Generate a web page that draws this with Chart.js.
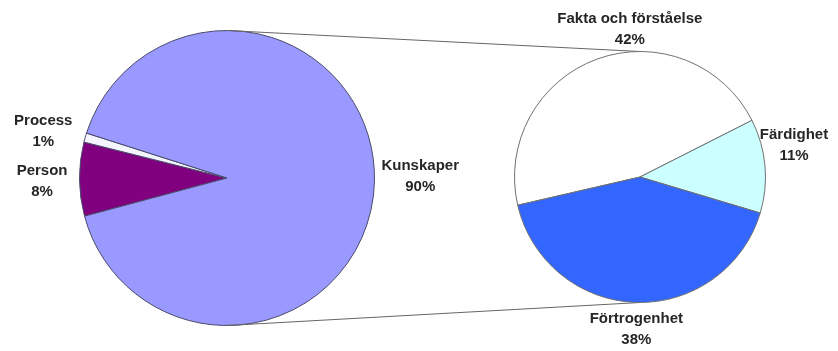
<!DOCTYPE html>
<html>
<head>
<meta charset="utf-8">
<script src="https://cdn.jsdelivr.net/npm/chart.js@4/dist/chart.umd.min.js"></script>
<style>
    body { margin: 0; background: #ffffff; }
    #wrap { position: relative; width: 838px; height: 351px; }
    #wrap canvas { position: absolute; left: 0; top: 0; }
</style>
</head>
<body>
<div id="wrap">
    <canvas id="chart-main" width="838" height="351"></canvas>
    <canvas id="chart-split" width="838" height="351"></canvas>
</div>
<script>
// Main pie (Kunskaper is split out into the second pie)
const mainLabels = ['Person', 'Process', 'Kunskaper'];
const mainValues = [8, 1, 90];
const mainColors = ['#800080', '#F4F4FF', '#9999FF'];

// Second pie - breakdown of Kunskaper
const splitLabels = ['Fakta och förståelse', 'Färdighet', 'Förtrogenhet'];
const splitValues = [42, 11, 38];
const splitColors = ['#FFFFFF', '#CCFFFF', '#3366FF'];

const LABEL_FONT = 'bold 15px "Liberation Sans", Arial, sans-serif';
const LINE_H = 21;

// Draws "name / value%" outside each slice, like Excel's outside-end labels
const outsideLabels = {
    id: 'outsideLabels',
    afterDatasetsDraw(chart, args, opts) {
        const ctx = chart.ctx;
        const meta = chart.getDatasetMeta(0);
        const vals = chart.data.datasets[0].data;
        const pad = opts.pad || 5;
        const nudge = opts.nudge || [];
        ctx.save();
        ctx.font = LABEL_FONT;
        ctx.fillStyle = '#262626';
        ctx.textAlign = 'center';
        ctx.textBaseline = 'middle';
        meta.data.forEach((arc, i) => {
            const p = arc.getProps(['x', 'y', 'startAngle', 'endAngle', 'outerRadius'], true);
            const mid = (p.startAngle + p.endAngle) / 2;
            const lines = [chart.data.labels[i], vals[i] + '%'];
            const w = Math.max(...lines.map(t => ctx.measureText(t).width));
            const h = lines.length * LINE_H;
            const cos = Math.cos(mid), sin = Math.sin(mid);
            const [dx, dy] = nudge[i] || [0, 0];
            const cx = p.x + cos * (p.outerRadius + pad) + cos * w / 2 + dx;
            const cy = p.y + sin * (p.outerRadius + pad) + sin * h / 2 + dy;
            lines.forEach((t, k) => ctx.fillText(t, cx, cy - h / 2 + LINE_H * (k + 0.5)));
        });
        ctx.restore();
    }
};

let mainChart, splitChart;

// Connector lines from the main pie to the second pie
const connectors = {
    id: 'connectors',
    beforeDatasetsDraw(chart) {
        if (!mainChart) return;
        const a = mainChart.getDatasetMeta(0).data[0];
        const b = chart.getDatasetMeta(0).data[0];
        const ctx = chart.ctx;
        ctx.save();
        ctx.strokeStyle = '#666666';
        ctx.lineWidth = 1;
        ctx.beginPath();
        ctx.moveTo(a.x, a.y - a.outerRadius);
        ctx.lineTo(b.x, b.y - b.outerRadius);
        ctx.moveTo(a.x, a.y + a.outerRadius);
        ctx.lineTo(b.x, b.y + b.outerRadius);
        ctx.stroke();
        ctx.restore();
    }
};

function pieOptions(rotation, padding, nudge) {
    return {
        responsive: false,
        animation: false,
        rotation: rotation,
        layout: { padding: padding },
        plugins: {
            legend: { display: false },
            tooltip: { enabled: false },
            outsideLabels: { pad: 5, nudge: nudge }
        }
    };
}

mainChart = new Chart(document.getElementById('chart-main').getContext('2d'), {
    type: 'pie',
    data: {
        labels: mainLabels,
        datasets: [{
            data: mainValues,
            backgroundColor: mainColors,
            borderColor: '#4a4a6a',
            borderWidth: 1
        }]
    },
    options: pieOptions(255, { left: 79, right: 463, top: 30, bottom: 25 },
        [[-7, 2], [-9, 1], [2, -6]]),
    plugins: [outsideLabels]
});

splitChart = new Chart(document.getElementById('chart-split').getContext('2d'), {
    type: 'pie',
    data: {
        labels: splitLabels,
        datasets: [{
            data: splitValues,
            backgroundColor: splitColors,
            borderColor: '#707070',
            borderWidth: 1
        }]
    },
    options: pieOptions(257, { left: 514, right: 72, top: 51, bottom: 48 },
        [[59, -5], [-10, -18], [2, 1]]),
    plugins: [connectors, outsideLabels]
});
</script>
</body>
</html>
